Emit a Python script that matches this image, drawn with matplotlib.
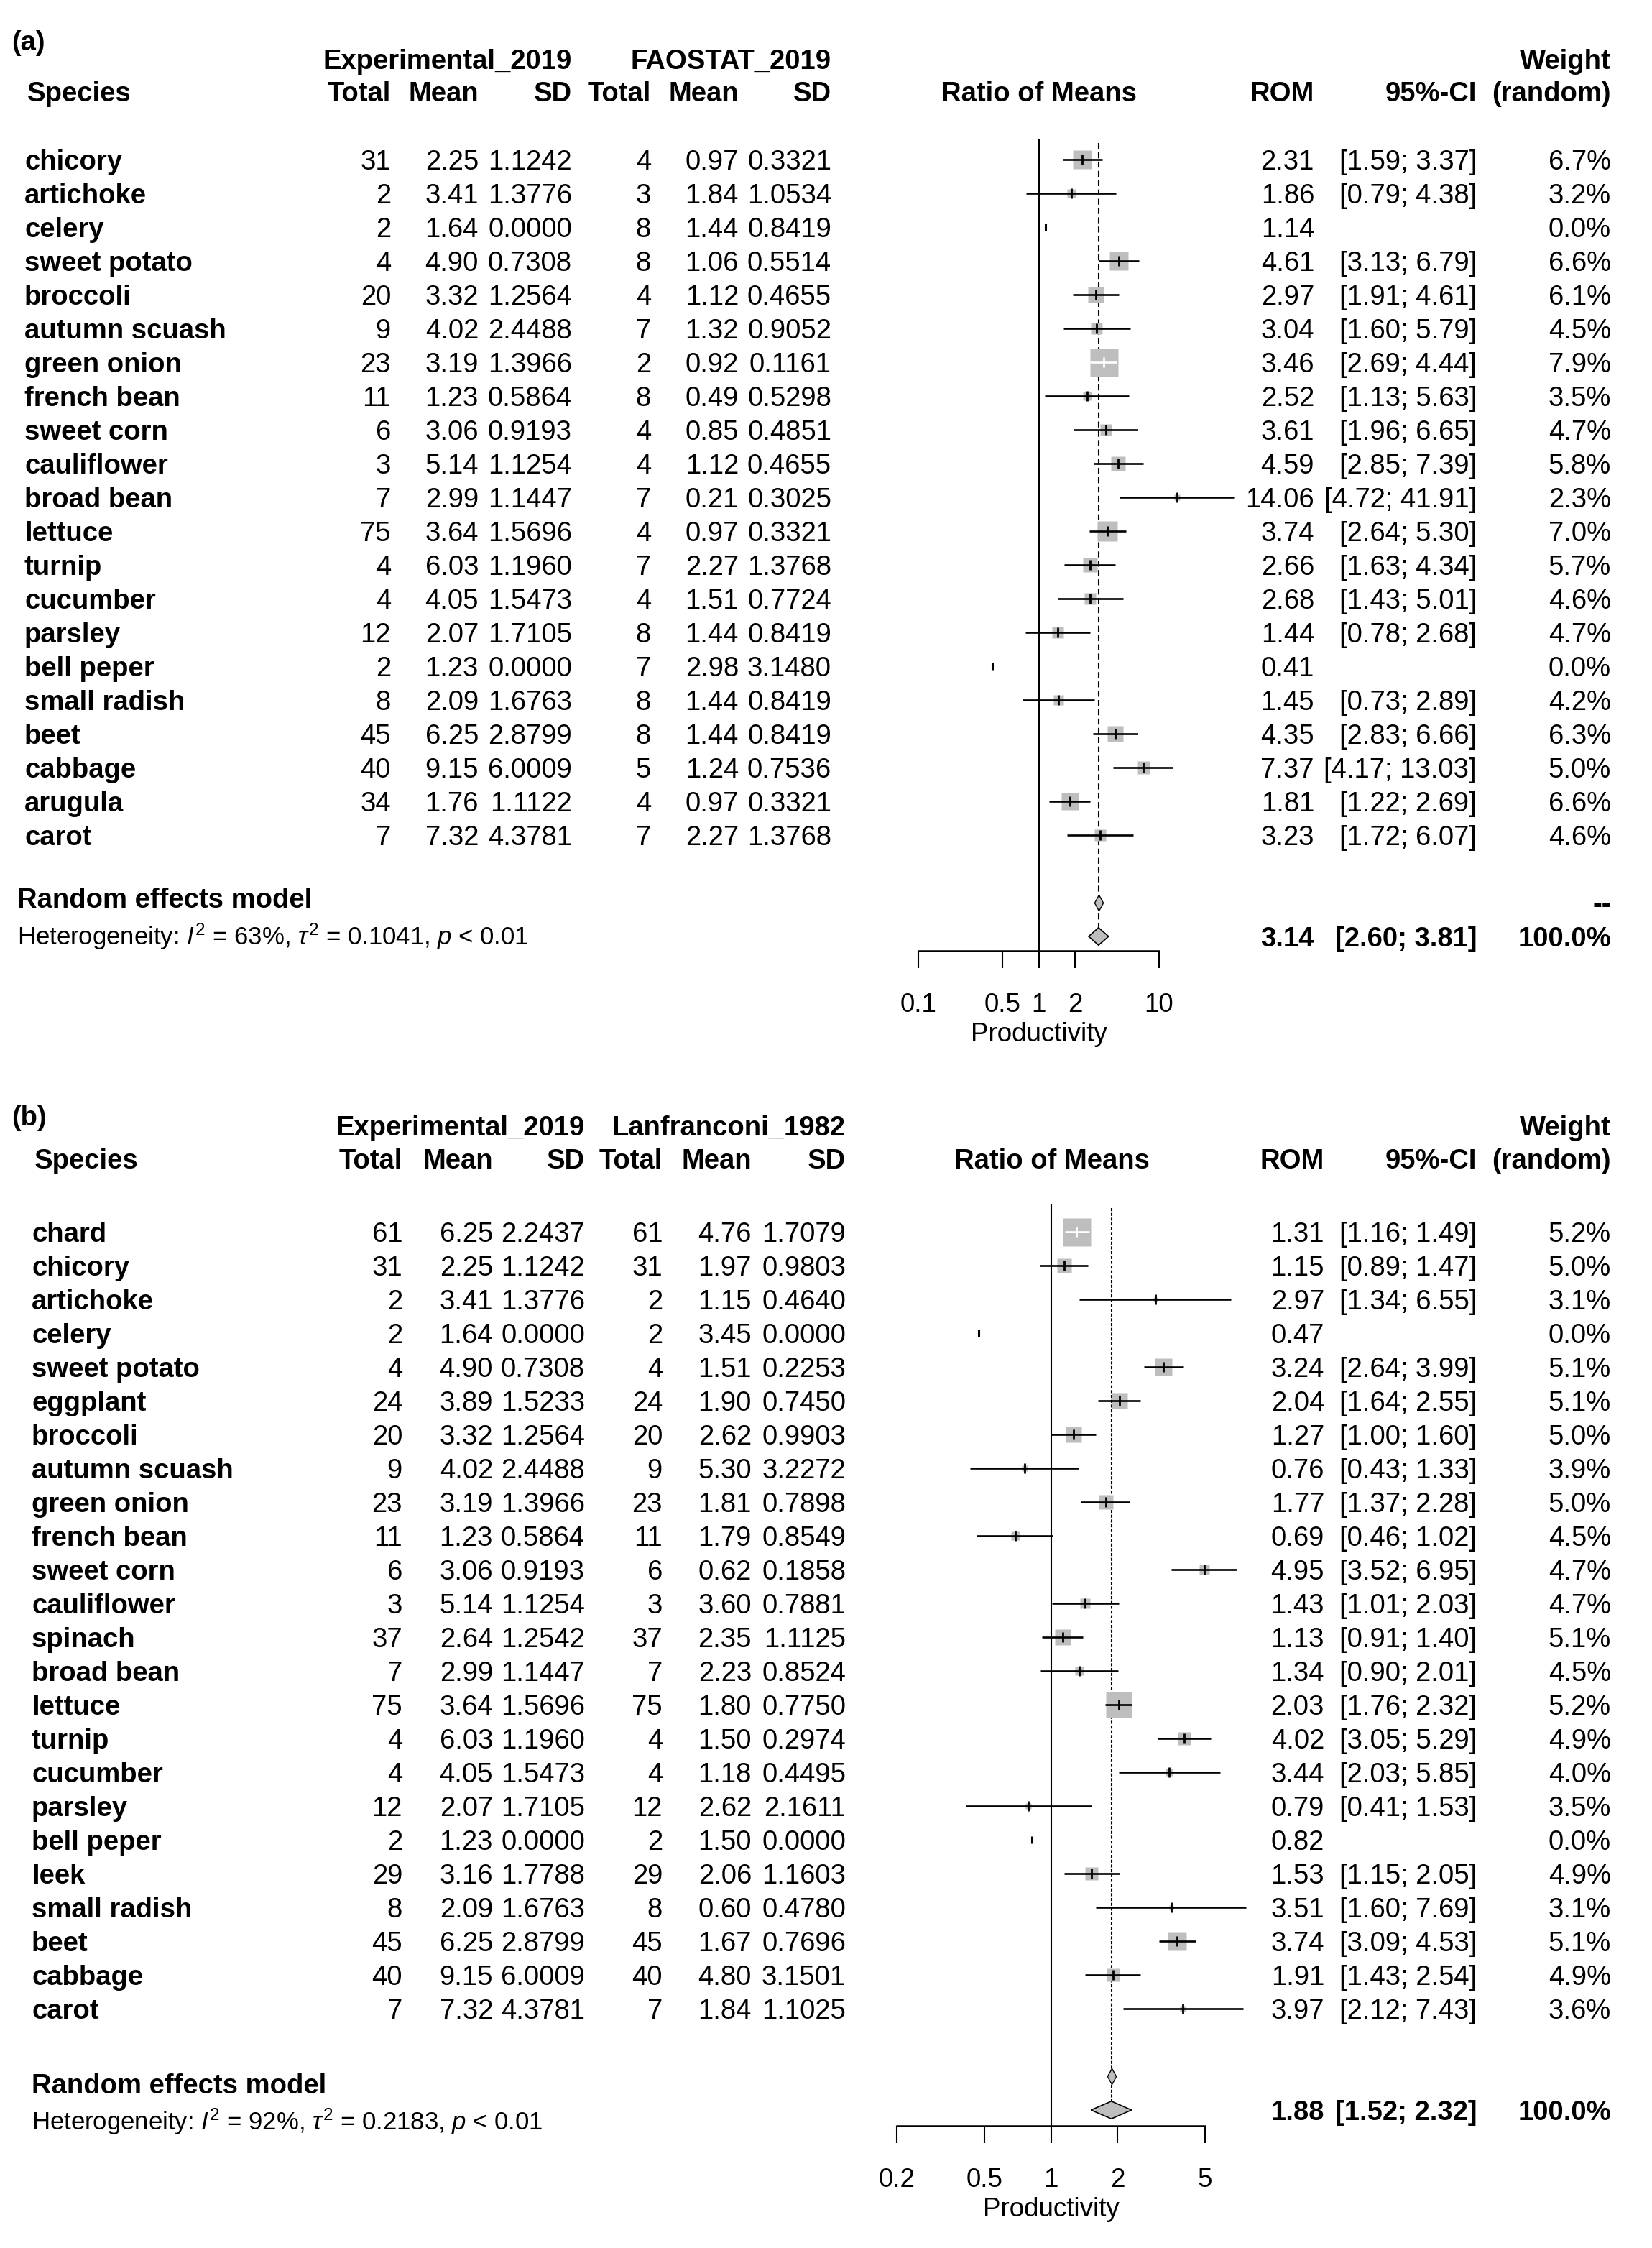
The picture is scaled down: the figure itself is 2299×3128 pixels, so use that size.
import numpy as np
import matplotlib.pyplot as plt
from matplotlib.path import Path
from matplotlib.ticker import NullLocator

# ---------------- panel (a): Experimental_2019 vs FAOSTAT_2019 ----------------
species_a = ['chicory', 'artichoke', 'celery', 'sweet potato', 'broccoli', 'autumn scuash',
             'green onion', 'french bean', 'sweet corn', 'cauliflower', 'broad bean', 'lettuce',
             'turnip', 'cucumber', 'parsley', 'bell peper', 'small radish', 'beet', 'cabbage',
             'arugula', 'carot']
n_exp_a = [31, 2, 2, 4, 20, 9, 23, 11, 6, 3, 7, 75, 4, 4, 12, 2, 8, 45, 40, 34, 7]
mean_exp_a = [2.25, 3.41, 1.64, 4.90, 3.32, 4.02, 3.19, 1.23, 3.06, 5.14, 2.99, 3.64,
              6.03, 4.05, 2.07, 1.23, 2.09, 6.25, 9.15, 1.76, 7.32]
sd_exp_a = [1.1242, 1.3776, 0.0000, 0.7308, 1.2564, 2.4488, 1.3966, 0.5864, 0.9193, 1.1254,
            1.1447, 1.5696, 1.1960, 1.5473, 1.7105, 0.0000, 1.6763, 2.8799, 6.0009, 1.1122, 4.3781]
n_ref_a = [4, 3, 8, 8, 4, 7, 2, 8, 4, 4, 7, 4, 7, 4, 8, 7, 8, 8, 5, 4, 7]
mean_ref_a = [0.97, 1.84, 1.44, 1.06, 1.12, 1.32, 0.92, 0.49, 0.85, 1.12, 0.21, 0.97,
              2.27, 1.51, 1.44, 2.98, 1.44, 1.44, 1.24, 0.97, 2.27]
sd_ref_a = [0.3321, 1.0534, 0.8419, 0.5514, 0.4655, 0.9052, 0.1161, 0.5298, 0.4851, 0.4655,
            0.3025, 0.3321, 1.3768, 0.7724, 0.8419, 3.1480, 0.8419, 0.8419, 0.7536, 0.3321, 1.3768]
rom_a = [2.31, 1.86, 1.14, 4.61, 2.97, 3.04, 3.46, 2.52, 3.61, 4.59, 14.06, 3.74,
         2.66, 2.68, 1.44, 0.41, 1.45, 4.35, 7.37, 1.81, 3.23]
ci_lo_a = [1.59, 0.79, np.nan, 3.13, 1.91, 1.60, 2.69, 1.13, 1.96, 2.85, 4.72, 2.64,
           1.63, 1.43, 0.78, np.nan, 0.73, 2.83, 4.17, 1.22, 1.72]
ci_hi_a = [3.37, 4.38, np.nan, 6.79, 4.61, 5.79, 4.44, 5.63, 6.65, 7.39, 41.91, 5.30,
           4.34, 5.01, 2.68, np.nan, 2.89, 6.66, 13.03, 2.69, 6.07]
weight_a = [6.7, 3.2, 0.0, 6.6, 6.1, 4.5, 7.9, 3.5, 4.7, 5.8, 2.3, 7.0,
            5.7, 4.6, 4.7, 0.0, 4.2, 6.3, 5.0, 6.6, 4.6]
summary_a = [3.14, 2.60, 3.81]
het_a = r'Heterogeneity: $I^2$ = 63%, $\tau^2$ = 0.1041, $p$ < 0.01'
ticks_a = [0.1, 0.5, 1, 2, 10]
ticklabels_a = ['0.1', '0.5', '1', '2', '10']

# ---------------- panel (b): Experimental_2019 vs Lanfranconi_1982 ----------------
species_b = ['chard', 'chicory', 'artichoke', 'celery', 'sweet potato', 'eggplant', 'broccoli',
             'autumn scuash', 'green onion', 'french bean', 'sweet corn', 'cauliflower', 'spinach',
             'broad bean', 'lettuce', 'turnip', 'cucumber', 'parsley', 'bell peper', 'leek',
             'small radish', 'beet', 'cabbage', 'carot']
n_exp_b = [61, 31, 2, 2, 4, 24, 20, 9, 23, 11, 6, 3, 37, 7, 75, 4, 4, 12, 2, 29, 8, 45, 40, 7]
mean_exp_b = [6.25, 2.25, 3.41, 1.64, 4.90, 3.89, 3.32, 4.02, 3.19, 1.23, 3.06, 5.14, 2.64,
              2.99, 3.64, 6.03, 4.05, 2.07, 1.23, 3.16, 2.09, 6.25, 9.15, 7.32]
sd_exp_b = [2.2437, 1.1242, 1.3776, 0.0000, 0.7308, 1.5233, 1.2564, 2.4488, 1.3966, 0.5864,
            0.9193, 1.1254, 1.2542, 1.1447, 1.5696, 1.1960, 1.5473, 1.7105, 0.0000, 1.7788,
            1.6763, 2.8799, 6.0009, 4.3781]
n_ref_b = [61, 31, 2, 2, 4, 24, 20, 9, 23, 11, 6, 3, 37, 7, 75, 4, 4, 12, 2, 29, 8, 45, 40, 7]
mean_ref_b = [4.76, 1.97, 1.15, 3.45, 1.51, 1.90, 2.62, 5.30, 1.81, 1.79, 0.62, 3.60, 2.35,
              2.23, 1.80, 1.50, 1.18, 2.62, 1.50, 2.06, 0.60, 1.67, 4.80, 1.84]
sd_ref_b = [1.7079, 0.9803, 0.4640, 0.0000, 0.2253, 0.7450, 0.9903, 3.2272, 0.7898, 0.8549,
            0.1858, 0.7881, 1.1125, 0.8524, 0.7750, 0.2974, 0.4495, 2.1611, 0.0000, 1.1603,
            0.4780, 0.7696, 3.1501, 1.1025]
rom_b = [1.31, 1.15, 2.97, 0.47, 3.24, 2.04, 1.27, 0.76, 1.77, 0.69, 4.95, 1.43, 1.13,
         1.34, 2.03, 4.02, 3.44, 0.79, 0.82, 1.53, 3.51, 3.74, 1.91, 3.97]
ci_lo_b = [1.16, 0.89, 1.34, np.nan, 2.64, 1.64, 1.00, 0.43, 1.37, 0.46, 3.52, 1.01, 0.91,
           0.90, 1.76, 3.05, 2.03, 0.41, np.nan, 1.15, 1.60, 3.09, 1.43, 2.12]
ci_hi_b = [1.49, 1.47, 6.55, np.nan, 3.99, 2.55, 1.60, 1.33, 2.28, 1.02, 6.95, 2.03, 1.40,
           2.01, 2.32, 5.29, 5.85, 1.53, np.nan, 2.05, 7.69, 4.53, 2.54, 7.43]
weight_b = [5.2, 5.0, 3.1, 0.0, 5.1, 5.1, 5.0, 3.9, 5.0, 4.5, 4.7, 4.7, 5.1,
            4.5, 5.2, 4.9, 4.0, 3.5, 0.0, 4.9, 3.1, 5.1, 4.9, 3.6]
summary_b = [1.88, 1.52, 2.32]
het_b = r'Heterogeneity: $I^2$ = 92%, $\tau^2$ = 0.2183, $p$ < 0.01'
ticks_b = [0.2, 0.5, 1, 2, 5]
ticklabels_b = ['0.2', '0.5', '1', '2', '5']

# ---------------- style ----------------
plt.rcParams['font.family'] = ['Liberation Sans', 'DejaVu Sans']
plt.rcParams['mathtext.fontset'] = 'custom'
plt.rcParams['mathtext.rm'] = 'Liberation Sans'
plt.rcParams['mathtext.it'] = 'Liberation Sans:italic'
plt.rcParams['mathtext.bf'] = 'Liberation Sans:bold'

W, H = 2299, 3128
ROW = 47.0          # pixels between study rows
FS = 27.5           # main font size
FS_HET = 25
GREY = '#BEBEBE'
X_CI = 2055         # right edge of 95%-CI column
X_W = 2242          # right edge of weight column
BOX_MAX = 39        # side (px) of the biggest square

fig = plt.figure(figsize=(W / 100, H / 100), dpi=100)
bg = fig.add_axes([0, 0, 1, 1])
bg.set_xlim(0, W)
bg.set_ylim(H, 0)
bg.axis('off')


def put(x, y, s, ha='left', bold=False, size=FS):
    bg.text(x, y, s, ha=ha, va='center_baseline', fontsize=size,
            fontweight='bold' if bold else 'normal', color='black')


thin_diamond = Path([(0, 1), (0.55, 0), (0, -1), (-0.55, 0), (0, 1)],
                    [Path.MOVETO, Path.LINETO, Path.LINETO, Path.LINETO, Path.CLOSEPOLY])


def draw_panel(p):
    r0 = p['row0']
    ypx = lambda r: r0 + ROW * r
    n = len(p['species'])

    # ----- table text -----
    put(16, p['tag_y'], p['tag'], bold=True)
    put(p['cols'][2], p['h1'], p['grp1'], ha='right', bold=True)
    put(p['cols'][5], p['h1'], p['grp2'], ha='right', bold=True)
    put(X_W, p['h1'], 'Weight', ha='right', bold=True)
    put(p['sp_hdr_x'], p['h2'], 'Species', bold=True)
    for x, s in zip(p['cols'], ['Total', 'Mean', 'SD', 'Total', 'Mean', 'SD']):
        put(x, p['h2'], s, ha='right', bold=True)
    put(p['one_px'], p['h2'], 'Ratio of Means', ha='center', bold=True)
    put(p['rom_x'], p['h2'], 'ROM', ha='right', bold=True)
    put(X_CI, p['h2'], '95%-CI', ha='right', bold=True)
    put(X_W, p['h2'], '(random)', ha='right', bold=True)

    for i in range(n):
        y = ypx(i)
        put(p['sp_x'], y, p['species'][i], bold=True)
        vals = [f"{p['n1'][i]}", f"{p['m1'][i]:.2f}", f"{p['s1'][i]:.4f}",
                f"{p['n2'][i]}", f"{p['m2'][i]:.2f}", f"{p['s2'][i]:.4f}"]
        for x, s in zip(p['cols'], vals):
            put(x, y, s, ha='right')
        put(p['rom_x'], y, f"{p['rom'][i]:.2f}", ha='right')
        if not np.isnan(p['lo'][i]):
            put(X_CI, y, f"[{p['lo'][i]:.2f}; {p['hi'][i]:.2f}]", ha='right')
        put(X_W, y, f"{p['w'][i]:.1f}%", ha='right')

    s_rom, s_lo, s_hi = p['summary']
    put(p['lab_x'], p['rem_y'], 'Random effects model', bold=True)
    put(p['lab_x'], p['het_y'], p['het'], size=FS_HET)
    if p['dash_w']:
        put(X_W, ypx(p['rem_row']), '--', ha='right', bold=True)
    put(p['rom_x'], ypx(p['sum_row']), f"{s_rom:.2f}", ha='right', bold=True)
    put(X_CI, ypx(p['sum_row']), f"[{s_lo:.2f}; {s_hi:.2f}]", ha='right', bold=True)
    put(X_W, ypx(p['sum_row']), '100.0%', ha='right', bold=True)

    # ----- forest plot -----
    x0, x1 = p['ax_px']
    top, bot = p['ax_top'], p['ax_bot']
    ax = fig.add_axes([x0 / W, 1 - bot / H, (x1 - x0) / W, (bot - top) / H])
    ax.set_xscale('log')
    ax.set_xlim(p['ticks'][0], p['ticks'][-1])
    ax.set_ylim((bot - r0) / ROW, (top - r0) / ROW)
    ax.patch.set_visible(False)
    for side in ['top', 'left', 'right']:
        ax.spines[side].set_visible(False)
    ax.spines['bottom'].set_linewidth(1.8)
    ax.spines['bottom'].set_bounds(p['ticks'][0], p['ticks'][-1])
    ax.set_yticks([])
    ax.set_xticks(p['ticks'])
    ax.set_xticklabels(p['ticklabels'])
    ax.xaxis.set_minor_locator(NullLocator())
    ax.tick_params(axis='x', direction='out', length=17, width=1.5, pad=25,
                   labelsize=26.5)
    ax.set_xlabel('Productivity', fontsize=26.5, labelpad=4)

    axis_row = (bot - r0) / ROW
    dh = 0.26
    ax.plot([1, 1], [p['line_top'], axis_row], color='black', lw=1.5, clip_on=False)
    ax.plot([s_rom, s_rom], [p['line_top'] + 0.1, p['sum_row'] - dh], color='black',
            lw=1.5, ls=p['dash'], clip_on=False)

    # fixed-effect (inverse variance) weights set the square areas
    n1 = np.array(p['n1'], float); m1 = np.array(p['m1']); s1 = np.array(p['s1'])
    n2 = np.array(p['n2'], float); m2 = np.array(p['m2']); s2 = np.array(p['s2'])
    w = np.array(p['w'])
    var = s1 ** 2 / (n1 * m1 ** 2) + s2 ** 2 / (n2 * m2 ** 2)
    ivw = np.where(w > 0, 1 / np.where(var > 0, var, np.nan), np.nan)
    side = BOX_MAX * np.sqrt(ivw / np.nanmax(ivw))

    for i in range(n):
        r, est, lo, hi = i, p['rom'][i], p['lo'][i], p['hi'][i]
        if w[i] > 0:
            ax.plot(est, r, marker='s', ms=side[i] * 0.72, mfc=GREY, mec='none',
                    clip_on=False, zorder=2)
            px_lo = ax.transData.transform((lo, r))[0]
            px_hi = ax.transData.transform((hi, r))[0]
            col = 'white' if (px_hi - px_lo) < side[i] else 'black'
            ax.plot([lo, hi], [r, r], color=col, lw=1.9, solid_capstyle='butt',
                    clip_on=False, zorder=3)
            ax.plot(est, r, marker='|', ms=9.5, mew=2.0, color=col, clip_on=False, zorder=4)
        else:
            ax.plot(est, r, marker='|', ms=7.5, mew=2.2, color='black', clip_on=False, zorder=4)

    # summary diamonds
    ax.plot(s_rom, p['rem_row'], marker=thin_diamond, ms=16, mfc=GREY, mec='black',
            mew=1.0, clip_on=False, zorder=4)
    ax.fill([s_lo, s_rom, s_hi, s_rom], [p['sum_row'], p['sum_row'] - dh,
            p['sum_row'], p['sum_row'] + dh], facecolor=GREY, edgecolor='black',
            lw=1.2, clip_on=False, zorder=4)


panel_a = dict(tag='(a)', tag_y=56, grp1='Experimental_2019', grp2='FAOSTAT_2019',
               h1=82, h2=127, row0=222, sp_x=34, sp_hdr_x=38, lab_x=24,
               cols=[544, 666, 796, 906, 1028, 1157], rom_x=1829, one_px=1446,
               species=species_a, n1=n_exp_a, m1=mean_exp_a, s1=sd_exp_a,
               n2=n_ref_a, m2=mean_ref_a, s2=sd_ref_a, rom=rom_a, lo=ci_lo_a, hi=ci_hi_a,
               w=weight_a, summary=summary_a, het=het_a, rem_row=22, sum_row=23,
               rem_y=1249, het_y=1299, dash_w=True,
               ax_px=(1278, 1613), ax_top=150, ax_bot=1323, line_top=-0.6,
               ticks=ticks_a, ticklabels=ticklabels_a, dash=(0, (4, 2.2)))

panel_b = dict(tag='(b)', tag_y=1552, grp1='Experimental_2019', grp2='Lanfranconi_1982',
               h1=1566, h2=1612, row0=1714, sp_x=44, sp_hdr_x=48, lab_x=44,
               cols=[560, 686, 814, 922, 1046, 1177], rom_x=1843, one_px=1464,
               species=species_b, n1=n_exp_b, m1=mean_exp_b, s1=sd_exp_b,
               n2=n_ref_b, m2=mean_ref_b, s2=sd_ref_b, rom=rom_b, lo=ci_lo_b, hi=ci_hi_b,
               w=weight_b, summary=summary_b, het=het_b, rem_row=25, sum_row=26,
               rem_y=2899, het_y=2948, dash_w=False,
               ax_px=(1248, 1677), ax_top=1640, ax_bot=2958, line_top=-0.8,
               ticks=ticks_b, ticklabels=ticklabels_b, dash=(0, (2.0, 1.2)))

draw_panel(panel_a)
draw_panel(panel_b)

fig.savefig('out.png', dpi=100, facecolor='white')
